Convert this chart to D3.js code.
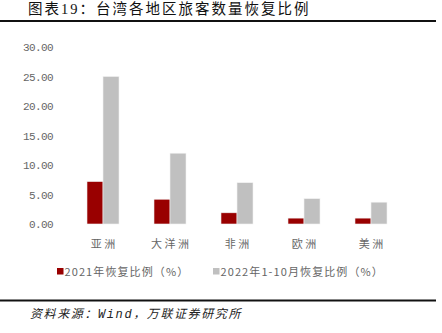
<!DOCTYPE html>
<html>
<head>
<meta charset="utf-8">
<script src="https://cdn.jsdelivr.net/npm/d3@7"></script>
<style>
  html, body { margin: 0; padding: 0; background: #fff; }
  svg { display: block; }
</style>
</head>
<body>
<svg id="chart" width="442" height="333"></svg>
<script>
// Recovery ratio of Taiwan inbound travellers by region (%)
const categories = ["亚洲", "大洋洲", "非洲", "欧洲", "美洲"];
const series2021 = [7.2, 4.2, 1.9, 1.0, 1.0];
const series2022 = [25.0, 12.0, 7.0, 4.3, 3.7];
const seriesNames = ["2021年恢复比例（%）", "2022年1-10月恢复比例（%）"];
const seriesColors = ["#990000", "#c0c0c0"];
const yTicks = [0, 5, 10, 15, 20, 25, 30];

const svg = d3.select("#chart");
const cjk = "'Noto Sans CJK SC', 'Noto Sans', sans-serif";

// Title and header rule
svg.append("text")
  .attr("x", 28).attr("y", 14)
  .attr("font-family", "'Liberation Serif', 'Noto Sans CJK SC', serif")
  .attr("font-size", 14.5).attr("fill", "#111").attr("letter-spacing", 2)
  .text("图表19：台湾各地区旅客数量恢复比例");
svg.append("rect").attr("x", 0).attr("y", 20).attr("width", 436).attr("height", 2).attr("fill", "#111");

// Scales
const x0 = d3.scaleBand().domain(categories).range([69.5, 404.5]).paddingInner(0.522).paddingOuter(0.261);
const x1 = d3.scaleBand().domain([0, 1]).range([0, x0.bandwidth()]);
const y = d3.scaleLinear().domain([0, 30]).range([224, 47]);

// Y axis labels
const yAxis = svg.append("g").attr("transform", "translate(53,0)")
  .call(d3.axisLeft(y).tickValues(yTicks).tickSize(0).tickPadding(0).tickFormat(d3.format(".2f")));
yAxis.select(".domain").remove();
yAxis.selectAll("text")
  .attr("font-family", "'Liberation Mono', 'DejaVu Sans Mono', monospace")
  .attr("font-size", 11).attr("fill", "#666").attr("letter-spacing", -0.6)
  .attr("dy", "0.35em");

// Bars
const data = [series2021, series2022];
const groups = svg.append("g").selectAll("g")
  .data(categories).join("g")
  .attr("transform", d => `translate(${x0(d)},0)`);
groups.selectAll("rect")
  .data((d, i) => data.map((s, k) => ({ k, v: s[i] })))
  .join("rect")
  .attr("x", d => x1(d.k))
  .attr("y", d => y(d.v))
  .attr("width", x1.bandwidth())
  .attr("height", d => y(0) - y(d.v))
  .attr("fill", d => seriesColors[d.k])
  .attr("stroke", "#f2f2f2").attr("stroke-width", 0.6);

// X axis labels (offset by half the letter spacing to stay centred)
const xAxis = svg.append("g").attr("transform", `translate(0,${y(0)})`)
  .call(d3.axisBottom(x0).tickSize(0).tickPadding(16));
xAxis.select(".domain").remove();
xAxis.selectAll("text")
  .attr("font-family", cjk).attr("font-size", 11).attr("fill", "#666")
  .attr("letter-spacing", 2.5).attr("dx", 1.25);

// Legend
const legendX = [57, 213];
const legend = svg.append("g");
seriesNames.forEach((name, i) => {
  legend.append("rect")
    .attr("x", legendX[i]).attr("y", 268).attr("width", 6.5).attr("height", 6.5)
    .attr("fill", seriesColors[i]);
  legend.append("text")
    .attr("x", legendX[i] + 7.5).attr("y", 275.5)
    .attr("font-family", cjk).attr("font-size", 11).attr("fill", "#666")
    .attr("letter-spacing", 1.1)
    .text(name);
});

// Footer rule and source note
svg.append("rect").attr("x", 0).attr("y", 299.5).attr("width", 436).attr("height", 2).attr("fill", "#111");
svg.append("text")
  .attr("x", 30).attr("y", 318)
  .attr("font-family", "'Liberation Mono', 'Noto Sans CJK SC', monospace")
  .attr("font-style", "italic")
  .attr("font-size", 12).attr("fill", "#222").attr("letter-spacing", 1.6)
  .text("资料来源：Wind，万联证券研究所");
</script>
</body>
</html>
